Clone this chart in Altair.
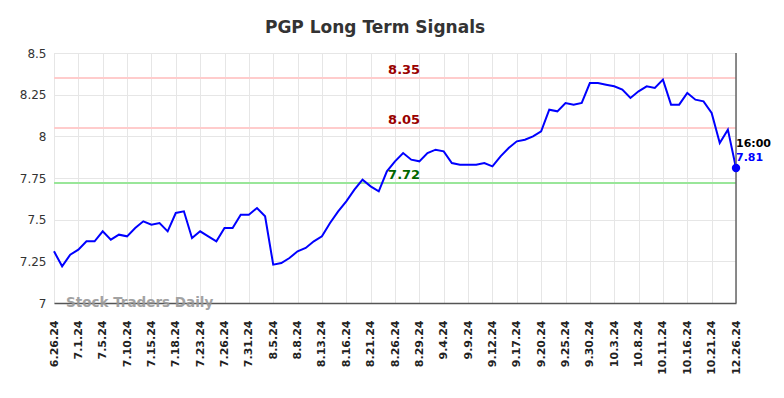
import altair as alt
import pandas as pd

dates = [
    "6.26.24", "6.27.24", "6.28.24",
    "7.1.24", "7.2.24", "7.3.24", "7.5.24", "7.8.24", "7.9.24", "7.10.24", "7.11.24", "7.12.24",
    "7.15.24", "7.16.24", "7.17.24", "7.18.24", "7.19.24", "7.22.24", "7.23.24", "7.24.24",
    "7.25.24", "7.26.24", "7.29.24", "7.30.24", "7.31.24",
    "8.1.24", "8.2.24", "8.5.24", "8.6.24", "8.7.24", "8.8.24", "8.9.24", "8.12.24", "8.13.24",
    "8.14.24", "8.15.24", "8.16.24", "8.19.24", "8.20.24", "8.21.24", "8.22.24", "8.23.24",
    "8.26.24", "8.27.24", "8.28.24", "8.29.24", "8.30.24",
    "9.3.24", "9.4.24", "9.5.24", "9.6.24", "9.9.24", "9.10.24", "9.11.24", "9.12.24", "9.13.24",
    "9.16.24", "9.17.24", "9.18.24", "9.19.24", "9.20.24", "9.23.24", "9.24.24", "9.25.24",
    "9.26.24", "9.27.24", "9.30.24",
    "10.1.24", "10.2.24", "10.3.24", "10.4.24", "10.7.24", "10.8.24", "10.9.24", "10.10.24",
    "10.11.24", "10.14.24", "10.15.24", "10.16.24", "10.17.24", "10.18.24", "10.21.24",
    "10.22.24", "10.23.24",
    "12.26.24",
]

prices = [
    7.31, 7.22, 7.29, 7.32, 7.37, 7.37, 7.43, 7.38, 7.41, 7.40,
    7.45, 7.49, 7.47, 7.48, 7.43, 7.54, 7.55, 7.39, 7.43, 7.40,
    7.37, 7.45, 7.45, 7.53, 7.53, 7.57, 7.52, 7.23, 7.24, 7.27,
    7.31, 7.33, 7.37, 7.40, 7.48, 7.55, 7.61, 7.68, 7.74, 7.70,
    7.67, 7.79, 7.85, 7.90, 7.86, 7.85, 7.90, 7.92, 7.91, 7.84,
    7.83, 7.83, 7.83, 7.84, 7.82, 7.88, 7.93, 7.97, 7.98, 8.00,
    8.03, 8.16, 8.15, 8.20, 8.19, 8.20, 8.32, 8.32, 8.31, 8.30,
    8.28, 8.23, 8.27, 8.30, 8.29, 8.34, 8.19, 8.19, 8.26, 8.22,
    8.21, 8.14, 7.96, 8.04, 7.81,
]

tick_labels = [
    "6.26.24", "7.1.24", "7.5.24", "7.10.24", "7.15.24", "7.18.24", "7.23.24", "7.26.24",
    "7.31.24", "8.5.24", "8.8.24", "8.13.24", "8.16.24", "8.21.24", "8.26.24", "8.29.24",
    "9.4.24", "9.9.24", "9.12.24", "9.17.24", "9.20.24", "9.25.24", "9.30.24", "10.3.24",
    "10.8.24", "10.11.24", "10.16.24", "10.21.24", "12.26.24",
]

levels = [8.35, 8.05, 7.72]
level_labels = ["8.35", "8.05", "7.72"]
level_line_colors = ["#ffcccc", "#ffcccc", "#99e699"]
level_text_colors = ["#990000", "#990000", "#006600"]
y_ticks = [7, 7.25, 7.5, 7.75, 8, 8.25, 8.5]

df = pd.DataFrame({"date": dates, "price": prices})
lv = pd.DataFrame({
    "level": levels,
    "label": level_labels,
    "lc": level_line_colors,
    "tc": level_text_colors,
    "date": ["8.27.24"] * 3,
})
last = df.iloc[[-1]].copy()
last["time"] = "16:00"
last["plabel"] = last["price"].map(lambda v: f"{v:.2f}")
wm = pd.DataFrame({"date": [dates[0]], "price": [7.0], "t": ["Stock Traders Daily"]})

xenc = alt.X(
    "date:N",
    sort=None,
    scale=alt.Scale(type="point", padding=0, domain=dates),
    axis=alt.Axis(
        values=tick_labels,
        labelAngle=270,
        labelFontSize=11,
        labelFontWeight="bold",
        labelColor="#222",
        labelPadding=17,
        ticks=False,
        grid=True,
        gridColor="#e6e6e6",
        domainColor="#555",
        domainWidth=1.5,
        title=None,
    ),
)
yscale = alt.Scale(domain=[7, 8.5], nice=False, zero=False)
yenc = alt.Y(
    "price:Q",
    scale=yscale,
    axis=alt.Axis(
        values=y_ticks,
        labelExpr="toString(datum.value)",
        labelFontSize=12,
        labelColor="#333",
        labelPadding=8,
        ticks=False,
        domain=False,
        grid=True,
        gridColor="#e6e6e6",
        title=None,
    ),
)

base = alt.Chart(df)

level_rules = alt.Chart(lv).mark_rule(strokeWidth=2).encode(
    y=alt.Y("level:Q", scale=yscale),
    color=alt.Color("lc:N", scale=None),
)
level_text = alt.Chart(lv).mark_text(
    fontSize=13, fontWeight="bold", align="center", baseline="bottom", dx=1, dy=-1
).encode(
    x=alt.X("date:N", sort=None),
    y=alt.Y("level:Q", scale=yscale),
    text="label:N",
    color=alt.Color("tc:N", scale=None),
)

line = base.mark_line(color="#0000ff", strokeWidth=2).encode(x=xenc, y=yenc)

vrule = alt.Chart(last).mark_rule(color="#666", strokeWidth=1.5).encode(
    x=alt.X("date:N", sort=None),
    y=alt.value(0),
    y2=alt.value(250),
)

pt = alt.Chart(last).mark_point(filled=True, size=70, color="#0000ff", opacity=1).encode(
    x=alt.X("date:N", sort=None), y=alt.Y("price:Q", scale=yscale)
)
t_time = alt.Chart(last).mark_text(
    fontSize=11, fontWeight="bold", align="left", baseline="middle", dx=0, dy=-24, color="#000"
).encode(x=alt.X("date:N", sort=None), y=alt.Y("price:Q", scale=yscale), text="time:N")
t_price = alt.Chart(last).mark_text(
    fontSize=11, fontWeight="bold", align="left", baseline="middle", dx=0, dy=-10, color="#0000ff"
).encode(x=alt.X("date:N", sort=None), y=alt.Y("price:Q", scale=yscale), text="plabel:N")

watermark = alt.Chart(wm).mark_text(
    fontSize=13.5, fontWeight="bold", align="left", baseline="middle", dx=12, color="#999999", opacity=0.9
).encode(x=alt.X("date:N", sort=None), y=alt.Y("price:Q", scale=yscale), text="t:N")

chart = alt.layer(
    level_rules, line, level_text, vrule, pt, t_time, t_price, watermark
).properties(
    width=682,
    height=250,
    title=alt.TitleParams(
        "PGP Long Term Signals",
        fontSize=17,
        fontWeight="bold",
        color="#333",
        font="DejaVu Sans",
        anchor="middle",
        dx=-20,
        offset=10,
    ),
    autosize=alt.AutoSizeParams(type="none"),
    padding={"left": 46, "top": 45, "right": 40, "bottom": 80},
).configure_view(stroke=None).configure(font="DejaVu Sans")

chart.save("out.html", embed_options={"renderer": "svg", "actions": False})
